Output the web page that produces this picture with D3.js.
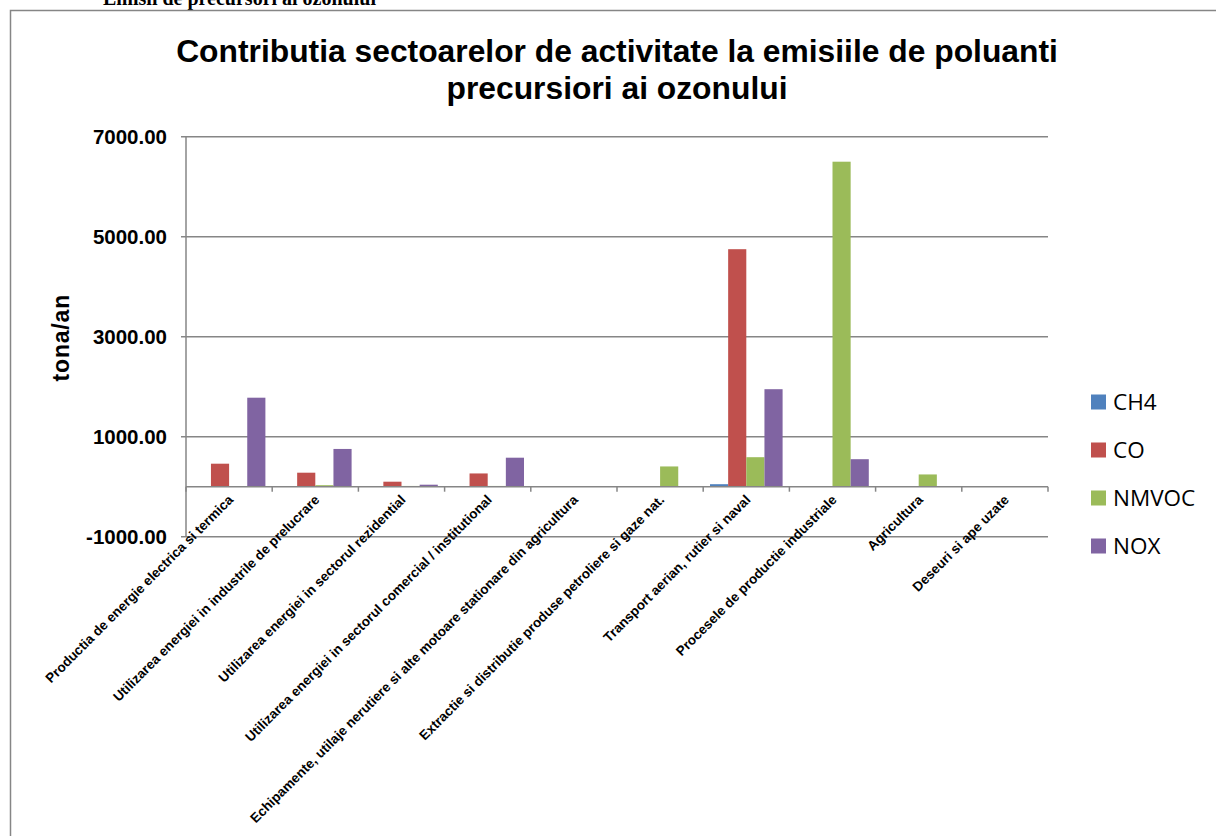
<!DOCTYPE html>
<html>
<head>
<meta charset="utf-8">
<script src="https://cdn.jsdelivr.net/npm/d3@7"></script>
<style>
  html, body { margin: 0; padding: 0; background: #fff; }
  svg { display: block; }
</style>
</head>
<body>
<svg id="chart" width="1216" height="836"></svg>
<script>
const categories = [
  "Productia de energie electrica si termica",
  "Utilizarea energiei in industrile de prelucrare",
  "Utilizarea energiei in sectorul rezidential",
  "Utilizarea energiei in sectorul comercial / institutional",
  "Echipamente, utilaje nerutiere si alte motoare stationare din agricultura",
  "Extractie si distributie produse petroliere si gaze nat.",
  "Transport aerian, rutier si naval",
  "Procesele de productie industriale",
  "Agricultura",
  "Deseuri si ape uzate"
];
const seriesNames = ["CH4", "CO", "NMVOC", "NOX"];
const CH4   = [0, 0, 0, 0, 0, 0, 50, 5, 0, 0];
const CO    = [460, 280, 100, 265, 0, 0, 4750, 10, 0, 0];
const NMVOC = [0, 30, 15, 15, 0, 405, 590, 6500, 245, 0];
const NOX   = [1780, 755, 40, 580, 0, 0, 1950, 550, 0, 0];
const yTicks = [-1000, 1000, 3000, 5000, 7000];
const colors = ["#4F81BD", "#C0504D", "#9BBB59", "#8064A2"];

const seriesValues = [CH4, CO, NMVOC, NOX];

const svg = d3.select("#chart");

// header text (cut off at top, as in the source page)
svg.append("text")
  .attr("x", 103).attr("y", 5)
  .attr("font-family", "Liberation Serif, Times New Roman, serif")
  .attr("font-weight", "bold").attr("font-size", 20)
  .text("Emisii de precursori ai ozonului");

// chart frame
svg.append("rect")
  .attr("x", 10.5).attr("y", 10.5)
  .attr("width", 1220).attr("height", 900)
  .attr("fill", "#fff").attr("stroke", "#868686").attr("stroke-width", 1.5);

const plot = { left: 186, right: 1048, top: 136.7, bottom: 536.7 };

const x0 = d3.scaleBand().domain(categories).range([plot.left, plot.right]).paddingInner(0).paddingOuter(0);
const x1 = d3.scaleBand().domain(seriesNames).range([0, x0.bandwidth()]).paddingInner(0).paddingOuter(0.375);
const y = d3.scaleLinear().domain([-1000, 7000]).range([plot.bottom, plot.top]);

// gridlines
svg.append("g").selectAll("line").data(yTicks).enter().append("line")
  .attr("x1", plot.left - 5).attr("x2", plot.right)
  .attr("y1", d => y(d)).attr("y2", d => y(d))
  .attr("stroke", "#868686").attr("stroke-width", 1.5);

// y axis line
svg.append("line")
  .attr("x1", plot.left).attr("x2", plot.left)
  .attr("y1", plot.top).attr("y2", plot.bottom)
  .attr("stroke", "#868686").attr("stroke-width", 1.5);

// y tick labels
svg.selectAll("text.ytick").data(yTicks).enter().append("text")
  .attr("class", "ytick")
  .attr("x", 167).attr("y", d => y(d))
  .attr("dy", "0.36em")
  .attr("text-anchor", "end")
  .attr("font-family", "Liberation Sans, Arial, sans-serif")
  .attr("font-weight", "bold").attr("font-size", 20.5)
  .text(d => d.toFixed(2));

// y axis title
svg.append("text")
  .attr("transform", `translate(69,${(plot.top + plot.bottom) / 2 + 1}) rotate(-90)`)
  .attr("text-anchor", "middle")
  .attr("font-family", "Liberation Sans, Arial, sans-serif")
  .attr("font-weight", "bold").attr("font-size", 23)
  .attr("letter-spacing", 0.8)
  .text("tona/an");

// bars
const groups = svg.append("g").selectAll("g").data(categories).enter().append("g")
  .attr("transform", d => `translate(${x0(d)},0)`);
groups.selectAll("rect").data((d, i) => seriesNames.map((s, j) => ({ s, j, v: seriesValues[j][i] })))
  .enter().append("rect")
  .attr("x", d => x1(d.s))
  .attr("width", x1.bandwidth())
  .attr("y", d => y(Math.max(0, d.v)))
  .attr("height", d => Math.abs(y(d.v) - y(0)))
  .attr("fill", d => colors[d.j]);

// x axis (at zero)
const xAxisY = y(0);
svg.append("line")
  .attr("x1", plot.left).attr("x2", plot.right)
  .attr("y1", xAxisY).attr("y2", xAxisY)
  .attr("stroke", "#868686").attr("stroke-width", 1.5);
const tickXs = [plot.left].concat(categories.map(c => x0(c) + x0.bandwidth()));
svg.selectAll("line.xtick").data(tickXs).enter().append("line")
  .attr("class", "xtick")
  .attr("x1", d => d).attr("x2", d => d)
  .attr("y1", xAxisY).attr("y2", xAxisY + 5)
  .attr("stroke", "#868686").attr("stroke-width", 1.5);

// category labels
svg.selectAll("text.xlab").data(categories).enter().append("text")
  .attr("class", "xlab")
  .attr("transform", d => `translate(${x0(d) + x0.bandwidth() / 2 + 5},${xAxisY + 14}) rotate(-45)`)
  .attr("text-anchor", "end")
  .attr("font-family", "Liberation Sans, Arial, sans-serif")
  .attr("font-weight", "bold").attr("font-size", 13.5)
  .text(d => d);

// title
const title = svg.append("text")
  .attr("text-anchor", "middle")
  .attr("font-family", "Liberation Sans, Arial, sans-serif")
  .attr("font-weight", "bold").attr("font-size", 31.8);
title.append("tspan").attr("x", 617).attr("y", 62).text("Contributia sectoarelor de activitate la emisiile de poluanti");
title.append("tspan").attr("x", 617).attr("y", 99).text("precursiori ai ozonului");

// legend
const legend = svg.append("g").selectAll("g").data(seriesNames).enter().append("g")
  .attr("transform", (d, i) => `translate(1091,${402 + i * 48})`);
legend.append("rect")
  .attr("x", 0).attr("y", -7.5).attr("width", 15).attr("height", 15)
  .attr("fill", (d, i) => colors[i]);
legend.append("text")
  .attr("x", 22).attr("y", 0).attr("dy", "0.36em")
  .attr("font-family", "Open Sans, sans-serif")
  .attr("font-size", 22.5)
  .text(d => d);
</script>
</body>
</html>
